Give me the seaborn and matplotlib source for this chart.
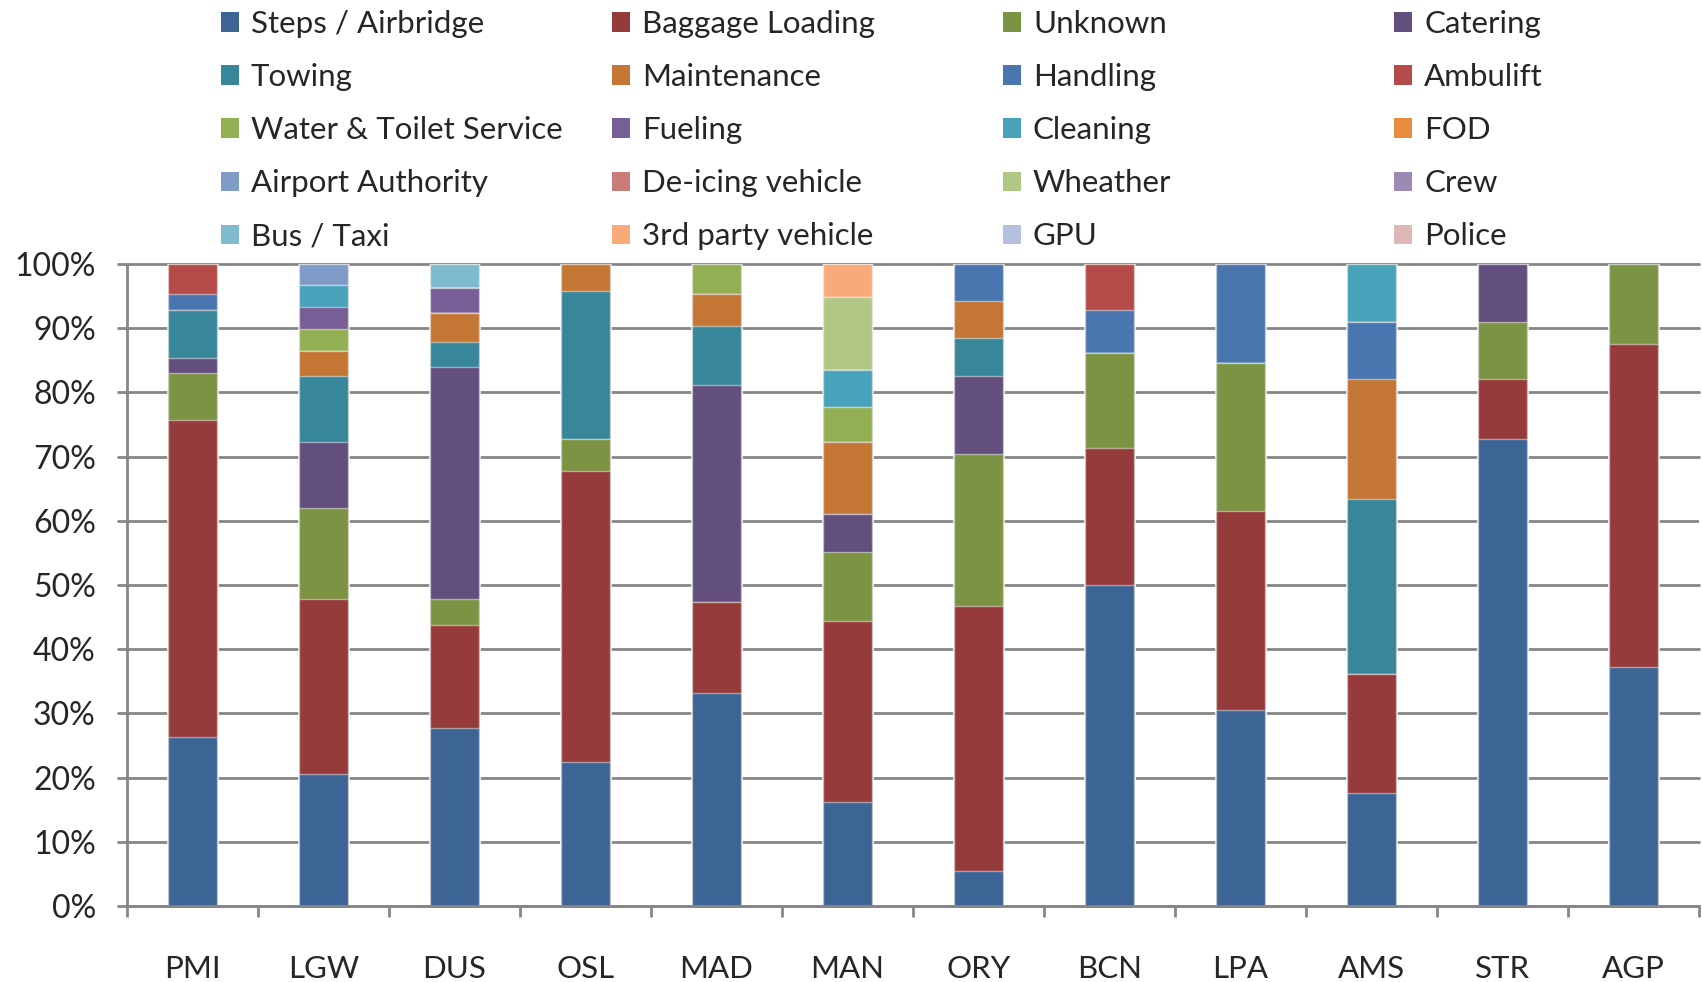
import numpy as np
import pandas as pd
import matplotlib
matplotlib.use("Agg")
from matplotlib import pyplot as plt
from matplotlib.patches import Patch
from matplotlib.ticker import FixedLocator, FuncFormatter
import seaborn as sns

airports = ["PMI", "LGW", "DUS", "OSL", "MAD", "MAN", "ORY", "BCN", "LPA", "AMS", "STR", "AGP"]

# share of incidents per cause (%)
steps_airbridge = [26.4, 20.6, 27.8, 22.4, 33.2, 16.2, 5.4, 50.0, 30.5, 17.6, 72.8, 37.2]
baggage_loading = [49.3, 27.2, 16.0, 45.4, 14.1, 28.2, 41.4, 21.3, 31.0, 18.5, 9.3, 50.3]
unknown = [7.3, 14.2, 4.0, 5.0, 0, 10.8, 23.6, 14.8, 23.1, 0, 8.9, 12.5]
catering = [2.4, 10.3, 36.2, 0, 33.8, 5.8, 12.1, 0, 0, 0, 9.0, 0]
towing = [7.45, 10.2, 3.9, 23.0, 9.3, 0, 6.0, 0, 0, 27.3, 0, 0]
maintenance = [0, 4.0, 4.5, 4.2, 5.0, 11.2, 5.8, 0, 0, 18.7, 0, 0]
handling = [2.55, 0, 0, 0, 0, 0, 5.7, 6.8, 15.4, 8.9, 0, 0]
ambulift = [4.6, 0, 0, 0, 0, 0, 0, 7.1, 0, 0, 0, 0]
water_toilet = [0, 3.4, 0, 0, 4.6, 5.5, 0, 0, 0, 0, 0, 0]
fueling = [0, 3.4, 3.8, 0, 0, 0, 0, 0, 0, 0, 0, 0]
cleaning = [0, 3.5, 0, 0, 0, 5.8, 0, 0, 0, 9.0, 0, 0]
fod = [0, 0, 0, 0, 0, 0, 0, 0, 0, 0, 0, 0]
airport_authority = [0, 3.2, 0, 0, 0, 0, 0, 0, 0, 0, 0, 0]
deicing_vehicle = [0, 0, 0, 0, 0, 0, 0, 0, 0, 0, 0, 0]
wheather = [0, 0, 0, 0, 0, 11.3, 0, 0, 0, 0, 0, 0]
crew = [0, 0, 0, 0, 0, 0, 0, 0, 0, 0, 0, 0]
bus_taxi = [0, 0, 3.8, 0, 0, 0, 0, 0, 0, 0, 0, 0]
third_party_vehicle = [0, 0, 0, 0, 0, 5.2, 0, 0, 0, 0, 0, 0]
gpu = [0, 0, 0, 0, 0, 0, 0, 0, 0, 0, 0, 0]
police = [0, 0, 0, 0, 0, 0, 0, 0, 0, 0, 0, 0]

series_names = ["Steps / Airbridge", "Baggage Loading", "Unknown", "Catering",
                "Towing", "Maintenance", "Handling", "Ambulift",
                "Water & Toilet Service", "Fueling", "Cleaning", "FOD",
                "Airport Authority", "De-icing vehicle", "Wheather", "Crew",
                "Bus / Taxi", "3rd party vehicle", "GPU", "Police"]
series_values = [steps_airbridge, baggage_loading, unknown, catering,
                 towing, maintenance, handling, ambulift,
                 water_toilet, fueling, cleaning, fod,
                 airport_authority, deicing_vehicle, wheather, crew,
                 bus_taxi, third_party_vehicle, gpu, police]
colors = ["#3C6595", "#953B3B", "#7B9343", "#634F7D",
          "#38869A", "#C47634", "#4A76AF", "#B54B49",
          "#93AF54", "#785E96", "#48A3BA", "#E98C3F",
          "#7F9BC7", "#C97C7A", "#B0C785", "#9C8AB4",
          "#7EBBCE", "#F8AB78", "#B3C1DE", "#DFB7B6"]

sns.set_theme(style="white")
plt.rcParams['font.family'] = ['Lato', 'DejaVu Sans']

df = pd.DataFrame(dict(zip(series_names, series_values)), index=airports)
df = df.div(df.sum(axis=1), axis=0) * 100
cum = df.cumsum(axis=1)

fig = plt.figure(figsize=(17.02, 9.82), dpi=100)
ax = fig.add_axes([127 / 1702, 1 - 906 / 982, (1699 - 127) / 1702, (906 - 264) / 982])

# stacked bars: draw the cumulative totals from the top series down
for name, color in reversed(list(zip(series_names, colors))):
    sns.barplot(x=airports, y=cum[name].values, color=color, saturation=1,
                width=0.38, edgecolor=(1, 1, 1, 0.45), linewidth=1, ax=ax)

grid_col = "#868686"
ax.set_xlim(-0.5, 11.5)
ax.set_ylim(0, 100)
ax.set_axisbelow(True)
ax.yaxis.grid(True, color=grid_col, linewidth=2)
ax.xaxis.grid(False)
for line in ax.get_ygridlines():
    line.set_clip_on(False)

for side in ["top", "right"]:
    ax.spines[side].set_visible(False)
for side in ["left", "bottom"]:
    ax.spines[side].set_color(grid_col)
    ax.spines[side].set_linewidth(2)

ax.yaxis.set_major_locator(FixedLocator(np.arange(0, 101, 10)))
ax.yaxis.set_major_formatter(FuncFormatter(lambda v, p: f"{v:.0f}%"))
ax.tick_params(axis="y", which="major", direction="out", length=7.5, width=2,
               color=grid_col, labelsize=23, pad=15, left=True)

ax.set_xticks(range(len(airports)))
ax.set_xticklabels(airports)
ax.xaxis.set_minor_locator(FixedLocator(np.arange(-0.5, 12, 1)))
ax.tick_params(axis="x", which="major", length=0, labelsize=22.5, pad=35)
ax.tick_params(axis="x", which="minor", direction="out", length=8, width=2,
               color=grid_col, bottom=True)
ax.set_xlabel("")
ax.set_ylabel("")

handles = [Patch(facecolor=c, edgecolor="none") for c in colors]
col_x = [221, 612, 1003, 1394]
for i in range(4):
    idx = list(range(i, len(series_names), 4))
    fig.legend([handles[k] for k in idx], [series_names[k] for k in idx],
               loc="upper left", bbox_to_anchor=(col_x[i] / 1702, 0.990),
               frameon=False, fontsize=22.5, handlelength=0.58, handleheight=0.58,
               handletextpad=0.38, labelspacing=0.805, borderpad=0, borderaxespad=0)

fig.savefig("out.png", dpi=100)
